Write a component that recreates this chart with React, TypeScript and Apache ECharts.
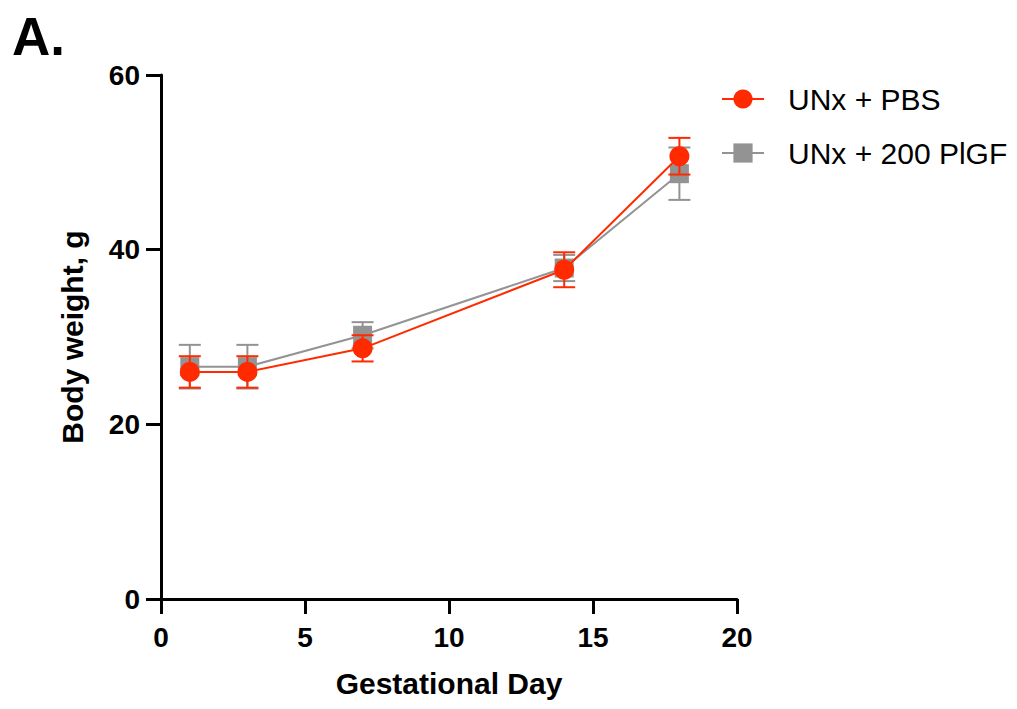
import React, { useEffect, useRef } from "react";
import * as echarts from "echarts";

const days = [1, 3, 7, 14, 18];
const pbsMean = [26.0, 26.0, 28.7, 37.7, 50.7];
const pbsErr = [1.8, 1.8, 1.5, 2.0, 2.1];
const plgfMean = [26.6, 26.6, 30.2, 37.9, 48.7];
const plgfErr = [2.5, 2.5, 1.5, 1.5, 3.0];
const seriesNames = ["UNx + PBS", "UNx + 200 PlGF"];
const xTicks = [0, 5, 10, 15, 20];
const yTicks = [0, 20, 40, 60];

const RED = "#FF2A00";
const GRAY = "#939393";
const FONT = "'Liberation Sans', Arial, Helvetica, sans-serif";

function errorSeries(mean: number[], err: number[], color: string, z: number) {
  return {
    type: "custom",
    z,
    silent: true,
    data: days.map((d, i) => [d, mean[i], err[i]]),
    renderItem: (params: any, api: any) => {
      const x = api.value(0);
      const y = api.value(1);
      const e = api.value(2);
      const top = api.coord([x, y + e]);
      const bot = api.coord([x, y - e]);
      const hw = 11;
      const style = { stroke: color, lineWidth: 2 };
      return {
        type: "group",
        children: [
          { type: "line", shape: { x1: top[0], y1: top[1], x2: bot[0], y2: bot[1] }, style },
          { type: "line", shape: { x1: top[0] - hw, y1: top[1], x2: top[0] + hw, y2: top[1] }, style },
          { type: "line", shape: { x1: bot[0] - hw, y1: bot[1], x2: bot[0] + hw, y2: bot[1] }, style },
        ],
      };
    },
  };
}

export default function App() {
  const ref = useRef<HTMLDivElement>(null);
  useEffect(() => {
    if (!ref.current) return;
    const chart = echarts.init(ref.current, undefined, { renderer: "svg" });
    chart.setOption({
      animation: false,
      backgroundColor: "#ffffff",
      textStyle: { fontFamily: FONT },
      graphic: [
        {
          type: "text",
          left: 12,
          top: 10,
          style: { text: "A.", font: `bold 53px ${FONT}`, fill: "#000" },
        },
      ],
      legend: {
        orient: "vertical",
        left: 721,
        top: 84,
        padding: 0,
        itemWidth: 42,
        itemHeight: 24,
        itemGap: 24,
        data: seriesNames,
        textStyle: {
          fontSize: 30,
          lineHeight: 30,
          color: "#000",
          fontFamily: FONT,
          padding: [0, 0, 0, 19],
        },
      },
      grid: { left: 161, right: 280, top: 75, bottom: 110, containLabel: false },
      xAxis: {
        type: "value",
        min: 0,
        max: 20,
        interval: 5,
        name: "Gestational Day",
        nameLocation: "middle",
        nameGap: 69,
        nameTextStyle: { fontSize: 30, fontWeight: "bold", color: "#000", fontFamily: FONT },
        axisLine: { show: true, lineStyle: { color: "#000", width: 3 } },
        axisTick: { show: true, length: 15, lineStyle: { color: "#000", width: 3 } },
        axisLabel: {
          fontSize: 28,
          fontWeight: "bold",
          color: "#000",
          margin: 24,
          fontFamily: FONT,
          formatter: (v: number) => (xTicks.includes(v) ? String(v) : ""),
        },
        splitLine: { show: false },
      },
      yAxis: {
        type: "value",
        min: 0,
        max: 60,
        interval: 20,
        name: "Body weight, g",
        nameLocation: "middle",
        nameGap: 74,
        nameTextStyle: { fontSize: 30, fontWeight: "bold", color: "#000", fontFamily: FONT },
        axisLine: { show: true, lineStyle: { color: "#000", width: 3 } },
        axisTick: { show: true, length: 15, lineStyle: { color: "#000", width: 3 } },
        axisLabel: {
          fontSize: 28,
          fontWeight: "bold",
          color: "#000",
          margin: 21,
          fontFamily: FONT,
          formatter: (v: number) => (yTicks.includes(v) ? String(v) : ""),
        },
        splitLine: { show: false },
      },
      series: [
        errorSeries(plgfMean, plgfErr, GRAY, 1),
        {
          name: seriesNames[1],
          type: "line",
          z: 2,
          data: days.map((d, i) => [d, plgfMean[i]]),
          symbol: "rect",
          symbolSize: 19,
          itemStyle: { color: GRAY },
          lineStyle: { color: GRAY, width: 2 },
        },
        errorSeries(pbsMean, pbsErr, RED, 3),
        {
          name: seriesNames[0],
          type: "line",
          z: 4,
          data: days.map((d, i) => [d, pbsMean[i]]),
          symbol: "circle",
          symbolSize: 20,
          itemStyle: { color: RED },
          lineStyle: { color: RED, width: 2 },
        },
      ],
    });
    return () => chart.dispose();
  }, []);
  return (
    <div
      ref={ref}
      style={{ position: "absolute", left: 0, top: 0, width: 1017, height: 709 }}
    />
  );
}
